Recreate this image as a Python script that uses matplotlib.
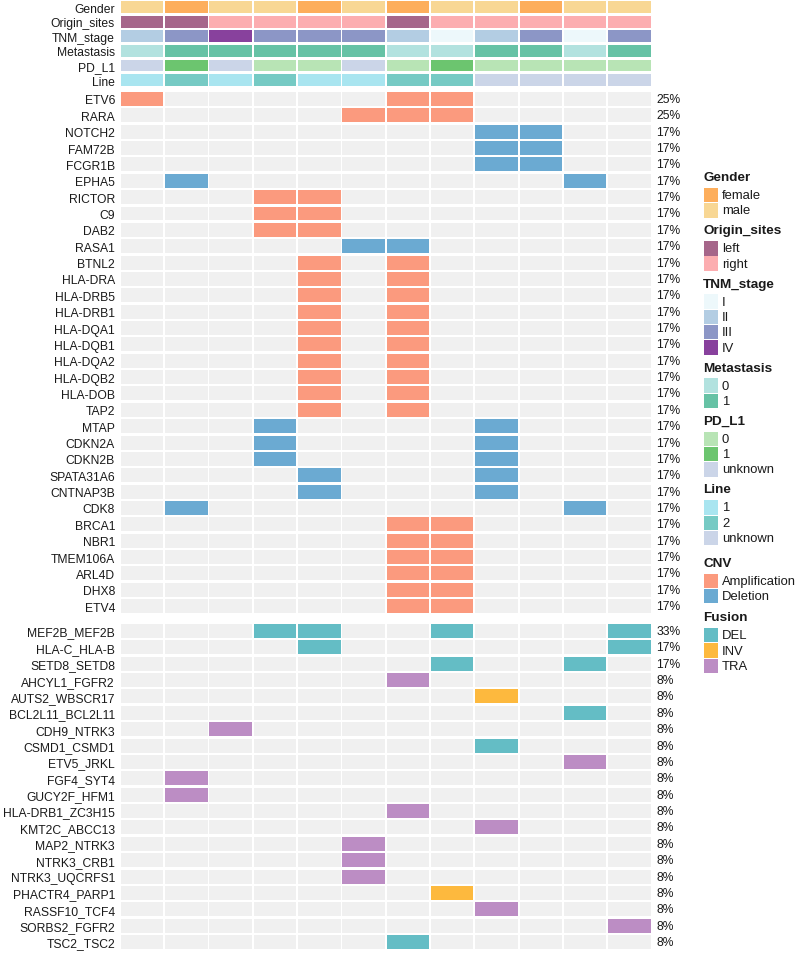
import numpy as np
import matplotlib.pyplot as plt
from matplotlib.patches import Rectangle

plt.rcParams['font.family'] = ['Liberation Sans', 'DejaVu Sans']

n_samples = 12

# sample annotations
gender = ['male', 'female', 'male', 'male', 'female', 'male', 'female', 'male', 'male', 'female', 'male', 'male']
origin_sites = ['left', 'left', 'right', 'right', 'right', 'right', 'left', 'right', 'right', 'right', 'right', 'right']
tnm_stage = ['II', 'III', 'IV', 'III', 'III', 'III', 'II', 'I', 'II', 'III', 'I', 'III']
metastasis = ['0', '1', '1', '1', '1', '1', '0', '0', '1', '1', '0', '1']
pd_l1 = ['unknown', '1', 'unknown', '0', '0', 'unknown', '0', '1', '0', '0', '0', '0']
line = ['1', '2', '1', '2', '1', '1', '2', '2', 'unknown', 'unknown', 'unknown', 'unknown']

# CNV: A = Amplification, D = Deletion, . = none (one char per sample)
cnv_genes = ['ETV6', 'RARA', 'NOTCH2', 'FAM72B', 'FCGR1B', 'EPHA5', 'RICTOR', 'C9', 'DAB2', 'RASA1',
             'BTNL2', 'HLA-DRA', 'HLA-DRB5', 'HLA-DRB1', 'HLA-DQA1', 'HLA-DQB1', 'HLA-DQA2', 'HLA-DQB2',
             'HLA-DOB', 'TAP2', 'MTAP', 'CDKN2A', 'CDKN2B', 'SPATA31A6', 'CNTNAP3B', 'CDK8',
             'BRCA1', 'NBR1', 'TMEM106A', 'ARL4D', 'DHX8', 'ETV4']
cnv_calls = ['A.....AA....', '.....AAA....', '........DD..', '........DD..', '........DD..',
             '.D........D.', '...AA.......', '...AA.......', '...AA.......', '.....DD.....',
             '....A.A.....', '....A.A.....', '....A.A.....', '....A.A.....', '....A.A.....',
             '....A.A.....', '....A.A.....', '....A.A.....', '....A.A.....', '....A.A.....',
             '...D....D...', '...D....D...', '...D....D...', '....D...D...', '....D...D...',
             '.D........D.', '......AA....', '......AA....', '......AA....', '......AA....',
             '......AA....', '......AA....']

# Fusion: D = DEL, I = INV, T = TRA
fusion_genes = ['MEF2B_MEF2B', 'HLA-C_HLA-B', 'SETD8_SETD8', 'AHCYL1_FGFR2', 'AUTS2_WBSCR17',
                'BCL2L11_BCL2L11', 'CDH9_NTRK3', 'CSMD1_CSMD1', 'ETV5_JRKL', 'FGF4_SYT4',
                'GUCY2F_HFM1', 'HLA-DRB1_ZC3H15', 'KMT2C_ABCC13', 'MAP2_NTRK3', 'NTRK3_CRB1',
                'NTRK3_UQCRFS1', 'PHACTR4_PARP1', 'RASSF10_TCF4', 'SORBS2_FGFR2', 'TSC2_TSC2']
fusion_calls = ['...DD..D...D', '....D......D', '.......D..D.', '......T.....', '........I...',
                '..........D.', '..T.........', '........D...', '..........T.', '.T..........',
                '.T..........', '......T.....', '........T...', '.....T......', '.....T......',
                '.....T......', '.......I....', '........T...', '...........T', '......D.....']

bg = '#F0F0F0'
gender_col = {'female': '#FDAE5C', 'male': '#F8D794'}
origin_col = {'left': '#A6668A', 'right': '#FCADB0'}
tnm_col = {'I': '#EDF8FB', 'II': '#B3CDE3', 'III': '#8C96C6', 'IV': '#88419D'}
meta_col = {'0': '#B2E2DF', '1': '#66C2A5'}
pdl1_col = {'0': '#B8E4B5', '1': '#6CC56F', 'unknown': '#CBD5E8'}
line_col = {'1': '#A9E5F0', '2': '#76CAC4', 'unknown': '#CBD5E8'}
cnv_col = {'A': '#FB9A7E', 'D': '#6BAAD2', '.': bg}
fus_col = {'D': '#64BDC5', 'I': '#FDB93E', 'T': '#BC8DC4', '.': bg}

W, H = 800, 954
fig = plt.figure(figsize=(W / 100, H / 100), dpi=100)


def add_ax(left, top, width, height):
    return fig.add_axes([left / W, 1 - (top + height) / H, width / W, height / H])


def draw_block(ax, labels, colors, cell_h, pct=None):
    n = len(labels)
    x = np.arange(n_samples)
    for i in range(n):
        ax.bar(x, cell_h, bottom=i - cell_h / 2, width=0.96, color=colors[i], linewidth=0)
    ax.set_xlim(-0.5, n_samples - 0.5)
    ax.set_ylim(n - 0.5, -0.5)
    ax.set_xticks([])
    ax.set_yticks(range(n))
    ax.set_yticklabels(labels, fontsize=8.7, color='#1a1a1a')
    ax.tick_params(length=0, pad=3.6)
    for s in ax.spines.values():
        s.set_visible(False)
    if pct is not None:
        for i, p in enumerate(pct):
            ax.annotate(p, xy=(1, i), xycoords=('axes fraction', 'data'), xytext=(3.3, 0),
                        textcoords='offset points', va='center', ha='left', fontsize=8.7,
                        color='#1a1a1a')


def percents(calls):
    return ['%d%%' % round(100 * sum(c != '.' for c in row) / n_samples) for row in calls]


left, width = 120, 531.5

ann_labels = ['Gender', 'Origin_sites', 'TNM_stage', 'Metastasis', 'PD_L1', 'Line']
ann_colors = [[gender_col[v] for v in gender], [origin_col[v] for v in origin_sites],
              [tnm_col[v] for v in tnm_stage], [meta_col[v] for v in metastasis],
              [pdl1_col[v] for v in pd_l1], [line_col[v] for v in line]]
ax_ann = add_ax(left, 0.8, width, 6 * 14.6)
draw_block(ax_ann, ann_labels, ann_colors, 0.82)

ax_cnv = add_ax(left, 91.8, width, len(cnv_genes) * 16.36)
draw_block(ax_cnv, cnv_genes, [[cnv_col[c] for c in row] for row in cnv_calls], 0.855,
           percents(cnv_calls))

ax_fus = add_ax(left, 623.8, width, len(fusion_genes) * 16.37)
draw_block(ax_fus, fusion_genes, [[fus_col[c] for c in row] for row in fusion_calls], 0.855,
           percents(fusion_calls))

# legends
lax = fig.add_axes([0, 0, 1, 1])
lax.set_xlim(0, W)
lax.set_ylim(H, 0)
lax.axis('off')

groups = [('Gender', gender_col, ['female', 'male'], 4.7),
          ('Origin_sites', origin_col, ['left', 'right'], 4.7),
          ('TNM_stage', tnm_col, ['I', 'II', 'III', 'IV'], 4.7),
          ('Metastasis', meta_col, ['0', '1'], 4.7),
          ('PD_L1', pdl1_col, ['0', '1', 'unknown'], 4.7),
          ('Line', line_col, ['1', '2', 'unknown'], 9.7),
          ('CNV', {'Amplification': cnv_col['A'], 'Deletion': cnv_col['D']}, ['Amplification', 'Deletion'], 5.7),
          ('Fusion', {'DEL': fus_col['D'], 'INV': fus_col['I'], 'TRA': fus_col['T']}, ['DEL', 'INV', 'TRA'], 0)]
y = 178
for title, cmap, keys, gap in groups:
    lax.text(703, y, title, fontsize=9.7, fontweight='bold', va='center', ha='left', color='#1a1a1a')
    y += 18
    for k in keys:
        lax.add_patch(Rectangle((704, y - 7.2), 14, 14.4, color=cmap[k], linewidth=0))
        lax.text(722, y, k, fontsize=9.4, va='center', ha='left', color='#1a1a1a')
        y += 15.3
    y += gap

fig.savefig('out.png', dpi=100)
